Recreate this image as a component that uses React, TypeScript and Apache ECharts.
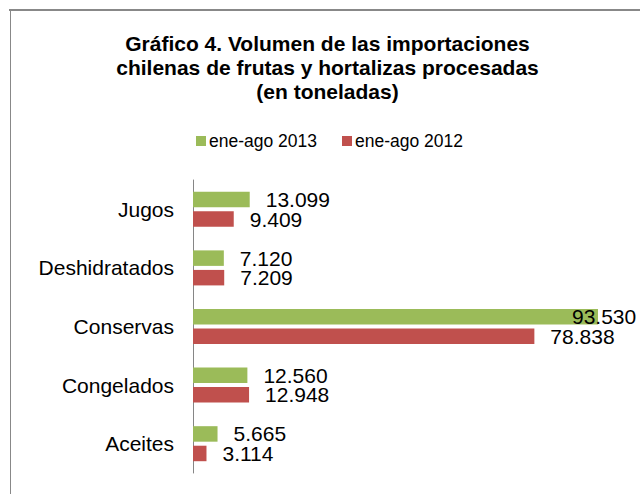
import React, { useEffect, useRef } from "react";
import * as echarts from "echarts";

const categories = ["Jugos", "Deshidratados", "Conservas", "Congelados", "Aceites"];
const series2013 = [13099, 7120, 93530, 12560, 5665];
const series2012 = [9409, 7209, 78838, 12948, 3114];
const seriesNames = ["ene-ago 2013", "ene-ago 2012"];
const titleLines = [
  "Gráfico 4. Volumen de las importaciones",
  "chilenas de frutas y hortalizas procesadas",
  "(en toneladas)",
];

const FONT = "'Liberation Sans', Arial, Helvetica, sans-serif";

function fmt(v: number): string {
  return String(v).replace(/\B(?=(\d{3})+(?!\d))/g, ".");
}

export default function App() {
  const ref = useRef<HTMLDivElement>(null);
  useEffect(() => {
    if (!ref.current) return;
    const chart = echarts.init(ref.current, undefined, { renderer: "svg" });
    const maxVal = Math.max(...series2013, ...series2012);
    const labelBase = {
      show: true,
      position: "right" as const,
      distance: 16,
      fontFamily: FONT,
      fontSize: 21,
      lineHeight: 18,
      color: "#000",
      formatter: (p: any) => fmt(p.value),
    };
    const data2013 = series2013.map((v) =>
      v === maxVal ? { value: v, label: { distance: -26 } } : v
    );
    chart.setOption({
      animation: false,
      backgroundColor: "#fff",
      textStyle: { fontFamily: FONT },
      graphic: [
        {
          type: "line",
          shape: { x1: 9, y1: 10, x2: 640, y2: 10 },
          style: { stroke: "#888888", lineWidth: 2 },
          silent: true,
        },
        {
          type: "line",
          shape: { x1: 10.5, y1: 10, x2: 10.5, y2: 494 },
          style: { stroke: "#888888", lineWidth: 1 },
          silent: true,
        },
        {
          type: "text",
          x: 327.5,
          y: 31,
          style: {
            text: titleLines.join("\n"),
            fontFamily: FONT,
            fontSize: 21,
            fontWeight: "bold",
            lineHeight: 24,
            fill: "#000",
            align: "center",
            verticalAlign: "top",
          },
        },
      ],
      legend: {
        left: 196,
        top: 132,
        padding: 0,
        itemWidth: 10,
        itemHeight: 10,
        itemGap: 25,
        icon: "rect",
        data: seriesNames,
        textStyle: { fontFamily: FONT, fontSize: 17.5, color: "#000", padding: [0, 0, 0, -2] },
      },
      grid: { left: 193, top: 180, width: 433, height: 293, containLabel: false },
      xAxis: {
        type: "value",
        min: 0,
        max: 100000,
        show: false,
        splitLine: { show: false },
      },
      yAxis: {
        type: "category",
        data: categories,
        inverse: true,
        axisLine: { show: true, lineStyle: { color: "#868686", width: 1 } },
        axisTick: { show: false },
        axisLabel: { margin: 19, fontFamily: FONT, fontSize: 21, color: "#000" },
      },
      series: [
        {
          name: seriesNames[0],
          type: "bar",
          data: data2013,
          barWidth: 15.5,
          barGap: "26%",
          itemStyle: { color: "#9BBB59" },
          label: labelBase,
        },
        {
          name: seriesNames[1],
          type: "bar",
          data: series2012,
          barWidth: 15.5,
          barGap: "26%",
          itemStyle: { color: "#C0504D" },
          label: labelBase,
        },
      ],
    });
    return () => chart.dispose();
  }, []);
  return (
    <div
      ref={ref}
      style={{ position: "absolute", left: 0, top: 0, width: 640, height: 494 }}
    />
  );
}
